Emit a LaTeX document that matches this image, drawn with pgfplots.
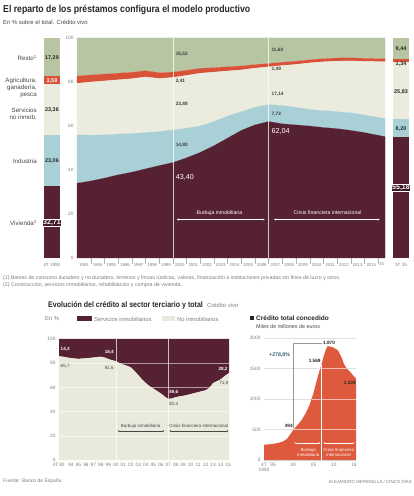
\documentclass[border=0pt]{standalone}
\usepackage{fontspec}
\setmainfont{Liberation Sans}
\newfontfamily\cond[FakeStretch=0.87]{Liberation Sans}
\usepackage{pgfplots}
\usepackage{pgfplotstable}
\pgfplotsset{compat=1.18}
\usetikzlibrary{arrows.meta}
\pgfplotsset{every axis/.append style={/pgf/number format/assume math mode=true,/pgf/number format/1000 sep={}}}
\definecolor{viv}{RGB}{86,33,51}
\definecolor{ind}{RGB}{168,208,214}
\definecolor{serv}{RGB}{235,235,222}
\definecolor{agri}{RGB}{216,82,56}
\definecolor{resto}{RGB}{184,197,163}
\definecolor{crema}{RGB}{233,233,220}
\definecolor{naranja}{RGB}{222,90,62}
\definecolor{txt}{RGB}{70,70,70}
\definecolor{lab}{RGB}{125,125,125}
\definecolor{tealc}{RGB}{55,95,115}
\newcommand{\fs}[2]{\fontsize{#1}{#2}\selectfont}

\pgfplotsset{
  topgeom/.style={at={(77pt,238pt)}, anchor=south west, scale only axis, width=308pt, height=220pt,
    xmin=1993, xmax=2015.5, ymin=0, ymax=100},
  blgeom/.style={at={(59pt,36pt)}, anchor=south west, scale only axis, width=170pt, height=121pt,
    xmin=1992.4, xmax=2015.13, ymin=0, ymax=100}
}

\pgfplotstableread{
x viv ind serv agri resto
1993 34 22 23.4 3.3 17.3
1994 35 20.8 24.2 3.2 16.8
1995 36.3 19.7 24.5 3.1 16.4
1996 37.8 18.5 24.7 3.0 16.0
1997 39 17.6 24.9 2.9 15.6
1998 40.5 16.5 25.3 2.8 14.9
1999 42 15.5 24.1 2.6 15.8
2000 43.4 14.8 23.87 2.41 15.52
2001 45.5 13.5 24.0 2.3 14.7
2002 48 12 24 2.2 13.8
2003 51 11 22.5 2.0 13.5
2004 54.5 10 20.5 1.9 13.1
2005 58 8.5 19 1.8 12.7
2006 60.5 8 17.8 1.6 12.1
2007 62.04 7.72 17.14 1.49 11.61
2008 61 8.3 18.2 1.45 11.05
2009 60.5 8 19.5 1.45 10.55
2010 60 7.5 21.2 1.4 9.9
2011 59.3 7.7 22.2 1.4 9.4
2012 58.8 7.7 23 1.4 9.1
2013 58 8 23.6 1.4 9
2014 57 8 24.4 1.35 9.25
2015.5 55.18 8.2 25.84 1.34 9.44
}\topdata

\pgfplotstableread{
x noinm inm
1992.4 85.7 14.3
1993 85.2 14.8
1993.5 84.6 15.4
1994 84.2 15.8
1994.5 83.8 16.2
1995 83.5 16.5
1995.5 83.8 16.2
1996 84.0 16.0
1996.5 84.3 15.7
1997 84.6 15.4
1997.5 85.0 15.0
1998 85.3 14.7
1998.5 84.6 15.4
1999 83.4 16.6
1999.5 82.4 17.6
2000 81.6 18.4
2000.5 80.0 20.0
2001 78.8 21.2
2001.5 77.8 22.2
2002 76.5 23.5
2002.5 73.5 26.5
2003 70.0 30.0
2003.5 66.5 33.5
2004 63.5 36.5
2004.5 61.0 39.0
2005 59.0 41.0
2005.5 57.0 43.0
2006 55.0 45.0
2006.5 52.5 47.5
2007 50.4 49.6
2007.5 50.8 49.2
2008 51.8 48.2
2008.5 52.5 47.5
2009 53.0 47.0
2009.5 53.6 46.4
2010 54.4 45.6
2010.5 55.2 44.8
2011 56.0 44.0
2011.5 56.8 43.2
2012 57.5 42.5
2012.5 59.5 40.5
2013 63.5 36.5
2013.5 65.0 35.0
2014 66.5 33.5
2014.5 69.0 31.0
2015.13 71.8 28.2
}\terdata

\pgfplotstableread{
x total
1992.75 250
1993.5 255
1994.5 260
1995.5 270
1996.5 285
1997.5 305
1998.5 350
1999.25 420
2000 494
2001 570
2002 650
2003 760
2004 900
2005 1100
2005.5 1230
2006 1350
2006.5 1470
2007 1569
2007.5 1700
2008 1800
2008.5 1870
2009 1860
2009.5 1855
2010 1840
2010.5 1820
2011 1800
2011.5 1740
2012 1670
2012.5 1580
2013 1520
2013.5 1480
2014 1450
2014.5 1410
2015 1370
2015.5 1339
}\credata

\begin{document}
\begin{tikzpicture}
\useasboundingbox (0,0) rectangle (414pt,496pt);
% ---------- titles
\node[anchor=west, inner sep=0, font={\cond\bfseries\fs{10}{12}}, text=black!85] at (3pt,486.5pt) {El reparto de los préstamos configura el modelo productivo};
\node[anchor=west, inner sep=0, font=\fs{5.9}{7}, text=txt] at (3pt,474pt) {En \% sobre el total. Crédito vivo};

% ---------- left bar
\begin{axis}[at={(44pt,238pt)}, anchor=south west, scale only axis, width=16pt, height=220pt,
  xmin=0, xmax=1, ymin=0, ymax=100, hide axis, stack plots=y]
\addplot[fill=viv, draw=none] coordinates {(0,32.71) (1,32.71)} \closedcycle;
\addplot[fill=ind, draw=none] coordinates {(0,23.06) (1,23.06)} \closedcycle;
\addplot[fill=serv, draw=none] coordinates {(0,23.36) (1,23.36)} \closedcycle;
\addplot[fill=agri, draw=none] coordinates {(0,3.59) (1,3.59)} \closedcycle;
\addplot[fill=resto, draw=none] coordinates {(0,17.29) (1,17.29)} \closedcycle;
\end{axis}

% ---------- main area chart
\begin{axis}[topgeom, stack plots=y,
  axis x line*=bottom, axis y line*=left, axis line style={draw=none},
  ytick={0,20,40,60,80,100}, ytick style={draw=none},
  yticklabel style={font=\fs{4.7}{5}, text=lab},
  xtick={1993.5,1994.5,1995.5,1996.5,1997.5,1998.5,1999.5,2000.5,2001.5,2002.5,2003.5,2004.5,2005.5,2006.5,2007.5,2008.5,2009.5,2010.5,2011.5,2012.5,2013.5,2014.5,2015.25},
  xticklabels={1993,1994,1995,1996,1997,1998,1999,2000,2001,2002,2003,2004,2005,2006,2007,2008,2009,2010,2011,2012,2013,2014,15},
  major x tick style={draw=none},
  minor xtick={1994,1995,...,2015},
  minor x tick style={lab!60, line width=0.3pt},
  minor tick length=6pt, major tick length=0pt, tick align=outside,
  xticklabel style={font=\fs{4.3}{5}, text=lab, yshift=-1.5pt},
  clip=false]
\addplot[fill=viv, draw=viv, line width=0.1pt] table[x=x,y=viv]{\topdata} \closedcycle;
\addplot[fill=ind, draw=ind, line width=0.1pt] table[x=x,y=ind]{\topdata} \closedcycle;
\addplot[fill=serv, draw=serv, line width=0.1pt] table[x=x,y=serv]{\topdata} \closedcycle;
\addplot[fill=agri, draw=agri, line width=0.1pt] table[x=x,y=agri]{\topdata} \closedcycle;
\addplot[fill=resto, draw=resto, line width=0.1pt] table[x=x,y=resto]{\topdata} \closedcycle;
\end{axis}
% overlay for annotations
\begin{axis}[topgeom, hide axis, clip=false]
\draw[white, opacity=0.75, line width=0.5pt] (axis cs:2000,0) -- (axis cs:2000,100);
\draw[white, opacity=0.75, line width=0.5pt] (axis cs:2007,0) -- (axis cs:2007,100);
\tikzset{vl/.style={anchor=west, inner sep=0, font={\fs{4.8}{5}\bfseries}, text=black!75},
         vb/.style={anchor=west, inner sep=0, font=\fs{7.2}{8}, text=white}}
\node[vl] at (axis cs:2000.2,92.7) {15,52};
\node[vl] at (axis cs:2000.2,80.5) {2,41};
\node[vl] at (axis cs:2000.2,70) {23,88};
\node[vl] at (axis cs:2000.2,51.4) {14,80};
\node[vb] at (axis cs:2000.2,36.8) {43,40};
\node[vl] at (axis cs:2007.2,94.5) {11,60};
\node[vl] at (axis cs:2007.2,86) {1,49};
\node[vl] at (axis cs:2007.2,74.5) {17,14};
\node[vl] at (axis cs:2007.2,65.5) {7,72};
\node[vb] at (axis cs:2007.2,57.3) {62,04};
\node[inner sep=0, font=\fs{5.2}{6}, text=white] at (axis cs:2003.4,20.5) {Burbuja inmobiliaria};
\draw[white, line width=0.4pt, {Stealth[length=2pt,width=2pt]}-{Stealth[length=2pt,width=2pt]}] (axis cs:2000.3,17.5) -- (axis cs:2006.7,17.5);
\node[inner sep=0, font=\fs{5.2}{6}, text=white] at (axis cs:2011.3,20.5) {Crisis financiera internacional};
\draw[white, line width=0.4pt, {Stealth[length=2pt,width=2pt]}-{Stealth[length=2pt,width=2pt]}] (axis cs:2007.4,17.5) -- (axis cs:2015.1,17.5);
\end{axis}

% ---------- right bar
\begin{axis}[at={(393pt,238pt)}, anchor=south west, scale only axis, width=16pt, height=220pt,
  xmin=0, xmax=1, ymin=0, ymax=100, hide axis, stack plots=y]
\addplot[fill=viv, draw=none] coordinates {(0,55.18) (1,55.18)} \closedcycle;
\addplot[fill=ind, draw=none] coordinates {(0,8.20) (1,8.20)} \closedcycle;
\addplot[fill=serv, draw=none] coordinates {(0,25.83) (1,25.83)} \closedcycle;
\addplot[fill=agri, draw=none] coordinates {(0,1.34) (1,1.34)} \closedcycle;
\addplot[fill=resto, draw=none] coordinates {(0,9.44) (1,9.44)} \closedcycle;
\end{axis}

% ---------- left labels
\tikzset{cl/.style={anchor=east, inner sep=0, font=\fs{6.2}{7}, text=txt, align=right},
         bv/.style={inner sep=0, font={\fs{5.4}{6}\bfseries}, text=black!85}}
\node[cl] at (37pt,438pt) {Resto\textsuperscript{1}};
\node[cl] at (37pt,408pt) {Agricultura,\\ganadería,\\pesca};
\node[cl] at (37pt,382.5pt) {Servicios\\no inmob.};
\node[cl] at (37pt,335pt) {Industria};
\node[cl] at (37pt,273pt) {Vivienda\textsuperscript{2}};
\node[bv] at (52pt,438pt) {17,29};
\node[fill=agri, text=white, font={\fs{5.4}{6}\bfseries}, inner sep=0.8pt, minimum width=16pt] at (52pt,415pt) {3,59};
\node[bv] at (52pt,386pt) {23,36};
\node[bv] at (52pt,335pt) {23,06};
\node[fill=viv!80!black, draw=white, line width=0.4pt, text=white, font={\fs{7}{8}\bfseries}, inner sep=0.6pt] at (52pt,273pt) {32,71};
% ---------- right labels
\node[bv] at (401pt,447pt) {9,44};
\node[bv] at (401pt,432pt) {1,34};
\node[bv] at (401pt,404pt) {25,83};
\node[bv] at (401pt,367pt) {8,20};
\node[fill=viv!70!black, draw=white, line width=0.4pt, text=white, font={\fs{7}{8}\bfseries}, inner sep=0.6pt] at (401pt,308pt) {55,18};
\node[inner sep=0, font=\fs{4.6}{5}, text=lab] at (52pt,231pt) {4T 1992};
\node[inner sep=0, font=\fs{4.6}{5}, text=lab] at (401pt,231pt) {3T 15};
% ---------- footnotes
\node[anchor=west, inner sep=0, font=\fs{5.25}{6}, text=lab] at (3pt,217.5pt) {(1) Bienes de consumo duradero y no duradero, terrenos y fincas rústicas, valores, financiación a instituciones privadas sin fines de lucro y otros.};
\node[anchor=west, inner sep=0, font=\fs{5.25}{6}, text=lab] at (3pt,210.5pt) {(2) Construcción, servicios inmobiliarios, rehabilitación y compra de vivienda.};

% ---------- bottom titles
\node[anchor=west, inner sep=0, font={\cond\bfseries\fs{8.1}{9}}, text=black!85] at (48pt,191pt) {Evolución del crédito al sector terciario y total};
\node[anchor=west, inner sep=0, font=\fs{5.9}{6}, text=lab] at (207pt,190.5pt) {Crédito vivo};
\node[anchor=west, inner sep=0, font=\fs{5.8}{6}, text=lab] at (45pt,177pt) {En \%};
\fill[viv] (77pt,175pt) rectangle (92pt,179.5pt);
\node[anchor=west, inner sep=0, font=\fs{5.8}{6}, text=lab] at (94pt,177pt) {Servicios inmobiliarios};
\fill[crema] (162pt,175pt) rectangle (175pt,179.5pt);
\node[anchor=west, inner sep=0, font=\fs{5.8}{6}, text=lab] at (177pt,177pt) {No inmobiliarios};

% ---------- bottom left chart
\begin{axis}[blgeom, stack plots=y,
  axis x line*=bottom, axis y line*=left, axis line style={draw=none}, tick style={draw=none},
  ytick={0,20,40,60,80,100}, yticklabel style={font=\fs{4.8}{5}, text=lab},
  xtick={1992.8,1994,1995,...,2015},
  xticklabels={92,94,95,96,97,98,99,00,01,02,03,04,05,06,07,08,09,10,11,12,13,14,15},
  xticklabel style={font=\fs{4.8}{5}, text=lab},
  clip=false]
\addplot[fill=crema, draw=crema, line width=0.1pt] table[x=x,y=noinm]{\terdata} \closedcycle;
\addplot[fill=viv, draw=none] table[x=x,y=inm]{\terdata} \closedcycle;
\end{axis}
\begin{axis}[blgeom, hide axis, clip=false]
\draw[white, opacity=0.55, line width=0.4pt] (axis cs:1992.4,20) -- (axis cs:2015.13,20);
\draw[white, opacity=0.55, line width=0.4pt] (axis cs:1992.4,40) -- (axis cs:2015.13,40);
\draw[white, opacity=0.55, line width=0.4pt] (axis cs:1992.4,60) -- (axis cs:2015.13,60);
\draw[white, opacity=0.55, line width=0.4pt] (axis cs:1992.4,80) -- (axis cs:2015.13,80);
\draw[white, opacity=0.7, line width=0.4pt] (axis cs:2000,0) -- (axis cs:2000,100);
\draw[white, opacity=0.7, line width=0.4pt] (axis cs:2007,0) -- (axis cs:2007,100);
\tikzset{wl/.style={anchor=west, inner sep=0, font={\fs{4.6}{5}\bfseries}, text=white},
         gl/.style={anchor=west, inner sep=0, font=\fs{4.6}{5}, text=txt}}
\node[wl] at (axis cs:1992.6,91.5) {14,3};
\node[gl] at (axis cs:1992.6,77.5) {85,7};
\node[wl] at (axis cs:1998.5,89) {18,4};
\node[gl] at (axis cs:1998.5,76) {81,6};
\node[wl] at (axis cs:2007.1,56) {49,6};
\node[gl] at (axis cs:2007.1,46) {50,4};
\node[wl] at (axis cs:2013.7,75) {28,2};
\node[gl] at (axis cs:2013.8,63.5) {71,8};
\node[inner sep=0, font=\fs{4.5}{5}, text=txt] at (axis cs:2003.3,28) {Burbuja inmobiliaria};
\draw[txt, line width=0.3pt, {Circle[length=1.3pt]}-{Circle[length=1.3pt]}] (axis cs:2000.3,24) -- (axis cs:2006.45,24);
\node[inner sep=0, font=\fs{4.5}{5}, text=txt] at (axis cs:2011.1,28) {Crisis financiera internacional};
\draw[txt, line width=0.3pt, {Circle[length=1.3pt]}-{Circle[length=1.3pt]}] (axis cs:2007.2,24) -- (axis cs:2015.0,24);
\end{axis}
\node[anchor=north, font=\fs{4.8}{5}, text=lab] at (55.5pt,36pt) {4T};

% ---------- bottom right chart
\fill[black!85] (250pt,175.8pt) rectangle (253.8pt,179.6pt);
\node[anchor=west, inner sep=0, font={\fs{6.5}{7}\bfseries}, text=black!85] at (256pt,177.8pt) {Crédito total concedido};
\node[anchor=west, inner sep=0, font=\fs{5.4}{6}, text=txt] at (256pt,169.5pt) {Miles de millones de euros};
\begin{axis}[at={(264pt,36pt)}, anchor=south west, scale only axis, width=92pt, height=122pt,
  xmin=1992.75, xmax=2015.5, ymin=0, ymax=2000,
  axis x line*=bottom, axis y line*=left, axis line style={draw=none}, tick style={draw=none},
  ytick={0,500,1000,1500,2000}, yticklabel style={font=\fs{4.8}{5}, text=lab},
  xtick={1992.75,1995,2000,2005,2010,2015}, xticklabels={4T,95,00,05,10,15},
  xticklabel style={font=\fs{4.8}{5}, text=lab},
  ymajorgrids, grid style={black!12, line width=0.3pt},
  clip=false]
\addplot[fill=naranja, draw=none] table[x=x,y=total]{\credata} \closedcycle;
\draw[white, opacity=0.6, line width=0.4pt] (axis cs:2000.2,500) -- (axis cs:2015.5,500);
\draw[white, opacity=0.6, line width=0.4pt] (axis cs:2004.5,1000) -- (axis cs:2015.5,1000);
\draw[white, opacity=0.6, line width=0.4pt] (axis cs:2006.2,1500) -- (axis cs:2013.3,1500);
\draw[white, line width=0.4pt] (axis cs:2007,0) -- (axis cs:2007,1560);
\draw[black!40, line width=0.4pt] (axis cs:2000,520) -- (axis cs:2000,1920) -- (axis cs:2007.2,1920);
\node[anchor=east, inner sep=0.5pt, font={\fs{4.7}{5}\bfseries}, text=black!85] at (axis cs:2000,560) {494};
\node[anchor=east, inner sep=0.5pt, font={\fs{4.7}{5}\bfseries}, text=black!85] at (axis cs:2006.9,1620) {1.569};
\node[anchor=west, inner sep=0.5pt, font={\fs{4.7}{5}\bfseries}, text=black!85] at (axis cs:2007.2,1925) {1.870};
\node[anchor=east, inner sep=0.5pt, font={\fs{4.7}{5}\bfseries}, text=black!85] at (axis cs:2015.6,1260) {1.339};
\node[inner sep=0, font={\fs{5.2}{6}\bfseries}, text=tealc] at (axis cs:1996.6,1720) {+278,8\%};
\node[inner sep=0, font=\fs{4.3}{5}, text=white, align=center] at (axis cs:2003.7,130) {Burbuja\\inmobiliaria};
\draw[white, line width=0.3pt, {Circle[length=1.2pt]}-{Circle[length=1.2pt]}] (axis cs:2000.3,280) -- (axis cs:2006.6,280);
\node[inner sep=0, font=\fs{4.3}{5}, text=white, align=center] at (axis cs:2011.2,130) {Crisis financiera\\internacional};
\draw[white, line width=0.3pt, {Circle[length=1.2pt]}-{Circle[length=1.2pt]}] (axis cs:2007.5,280) -- (axis cs:2015.1,280);
\node[anchor=north, font=\fs{4.8}{5}, text=lab, yshift=-5pt] at (axis cs:1992.75,0) {1992};
\end{axis}

% ---------- footer
\node[anchor=west, inner sep=0, font=\fs{5}{6}, text=lab] at (3pt,15pt) {Fuente: Banco de España};
\node[anchor=east, inner sep=0, font=\fs{4.4}{5}, text=lab] at (412pt,14pt) {ALEJANDRO MERINSILLA / CINCO DÍAS};
\end{tikzpicture}
\end{document}
